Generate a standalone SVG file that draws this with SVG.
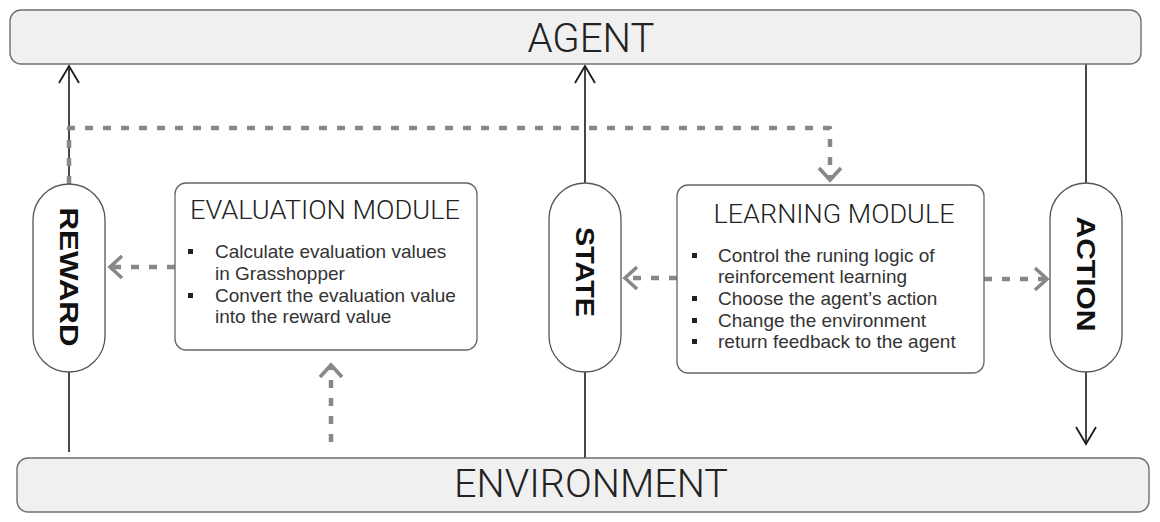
<svg xmlns="http://www.w3.org/2000/svg" width="1160" height="522" viewBox="0 0 1160 522">
<style>
.bar{fill:#f0f0f0;stroke:#707070;stroke-width:1.4}
.pill{fill:#fff;stroke:#555;stroke-width:1.3}
.mod{fill:#fff;stroke:#666;stroke-width:1.3}
.big{font-family:Roboto,"Liberation Sans",Arial,sans-serif;font-weight:300;fill:#222;text-anchor:middle}
.lbl{font-family:"Liberation Sans",Arial,sans-serif;font-weight:bold;font-size:26px;fill:#111;text-anchor:middle}
.ttl{font-family:Roboto,"Liberation Sans",Arial,sans-serif;font-weight:300;font-size:25px;fill:#222;text-anchor:middle}
.txt{font-family:"Liberation Sans",Arial,sans-serif;font-size:19px;fill:#333}
.bul{fill:#222}
.solid{fill:none;stroke:#1a1a1a;stroke-width:1.6}
.dash{fill:none;stroke:#888;stroke-width:4.5;stroke-dasharray:8 10;stroke-linejoin:round}
</style>
<defs>
<marker id="ah" markerUnits="userSpaceOnUse" orient="auto" refX="0" refY="0" markerWidth="40" markerHeight="40" overflow="visible">
<path d="M-17,-10 L0,0 L-17,10" fill="none" stroke="#1a1a1a" stroke-width="1.8"/>
</marker>
<marker id="gh" markerUnits="userSpaceOnUse" orient="auto" refX="0" refY="0" markerWidth="40" markerHeight="40" overflow="visible">
<path d="M-12,-11 L0,0 L-12,11" fill="none" stroke="#888" stroke-width="3.6" stroke-dasharray="none"/>
</marker>
</defs>

<g id="connectors">
<path class="solid" d="M69,184 L69,66" marker-end="url(#ah)"/>
<path class="solid" d="M69,372 L69,452"/>
<path class="solid" d="M585,183 L585,66" marker-end="url(#ah)"/>
<path class="solid" d="M585,372 L585,458"/>
<path class="solid" d="M1086,64 L1086,183"/>
<path class="solid" d="M1086,372 L1086,444" marker-end="url(#ah)"/>
<path class="dash" d="M69,184 L69,128 L830,128 L830,180" marker-end="url(#gh)"/>
<path class="dash" d="M175,267 L110,267" marker-end="url(#gh)"/>
<path class="dash" d="M677,278 L625,278" marker-end="url(#gh)"/>
<path class="dash" d="M984,279 L1047,279" marker-end="url(#gh)"/>
<path class="dash" d="M331,442 L331,365" marker-end="url(#gh)"/>
</g>

<g id="agent">
<rect class="bar" x="10" y="10" width="1131" height="54" rx="11"/>
<text class="big" x="591" y="52" font-size="40" textLength="127" lengthAdjust="spacingAndGlyphs">AGENT</text>
</g>

<g id="environment">
<rect class="bar" x="17" y="458" width="1132" height="54" rx="11"/>
<text class="big" x="591" y="497" font-size="38" textLength="274" lengthAdjust="spacingAndGlyphs">ENVIRONMENT</text>
</g>

<g id="reward">
<rect class="pill" x="33" y="184" width="72" height="188" rx="36"/>
<text class="lbl" transform="translate(69,277) rotate(90)" y="9" textLength="139" lengthAdjust="spacingAndGlyphs">REWARD</text>
</g>

<g id="state">
<rect class="pill" x="549" y="183" width="72" height="189" rx="36"/>
<text class="lbl" transform="translate(585,272) rotate(90)" y="9" textLength="90" lengthAdjust="spacingAndGlyphs">STATE</text>
</g>

<g id="action">
<rect class="pill" x="1050" y="183" width="72" height="189" rx="36"/>
<text class="lbl" transform="translate(1086,274) rotate(90)" y="9" textLength="115" lengthAdjust="spacingAndGlyphs">ACTION</text>
</g>

<g id="evaluation-module">
<rect class="mod" x="175" y="183" width="302" height="167" rx="11"/>
<text class="ttl" x="325" y="219" textLength="270" lengthAdjust="spacingAndGlyphs">EVALUATION MODULE</text>
<rect class="bul" x="188" y="249" width="5" height="5"/>
<rect class="bul" x="188" y="293" width="5" height="5"/>
<text class="txt" x="215" y="258">Calculate evaluation values</text>
<text class="txt" x="215" y="280">in Grasshopper</text>
<text class="txt" x="215" y="302">Convert the evaluation value</text>
<text class="txt" x="215" y="323">into the reward value</text>
</g>

<g id="learning-module">
<rect class="mod" x="677" y="185" width="307" height="188" rx="11"/>
<text class="ttl" x="834" y="223" textLength="241" lengthAdjust="spacingAndGlyphs">LEARNING MODULE</text>
<rect class="bul" x="692" y="253" width="5" height="5"/>
<rect class="bul" x="692" y="296" width="5" height="5"/>
<rect class="bul" x="692" y="318" width="5" height="5"/>
<rect class="bul" x="692" y="339" width="5" height="5"/>
<text class="txt" x="718" y="262">Control the runing logic of</text>
<text class="txt" x="718" y="283">reinforcement learning</text>
<text class="txt" x="718" y="305">Choose the agent’s action</text>
<text class="txt" x="718" y="327">Change the environment</text>
<text class="txt" x="718" y="348">return feedback to the agent</text>
</g>
</svg>
